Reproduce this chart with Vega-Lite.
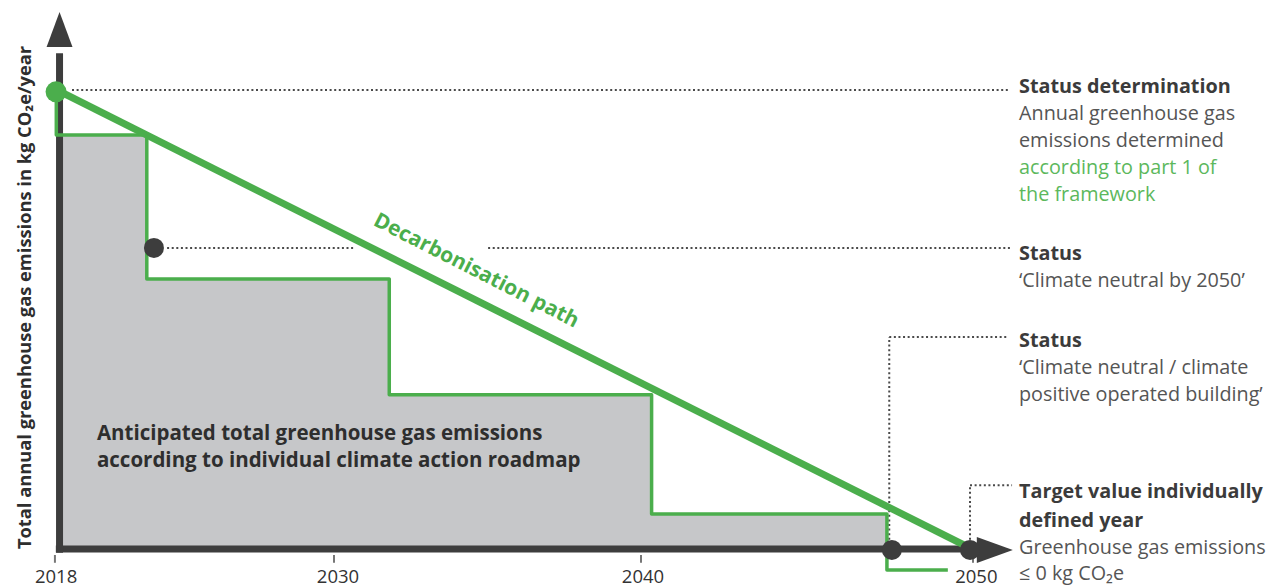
{
  "$schema": "https://vega.github.io/schema/vega-lite/v6.json",
  "width": 1277,
  "height": 588,
  "autosize": {"type": "none"},
  "padding": 0,
  "background": "white",
  "config": {"view": {"stroke": null}, "font": "Open Sans"},
  "encoding": {
    "x": {"field": "year", "type": "quantitative", "axis": null,
      "scale": {"domain": [2018, 2030, 2040, 2050], "range": [57, 334, 641, 972], "nice": false, "zero": false}},
    "y": {"field": "value", "type": "quantitative", "axis": null,
      "scale": {"domain": [0, 100], "range": [549, 90], "nice": false, "zero": false}}
  },
  "layer": [
    {
      "data": {"values": [
        {"year": 2018, "value": 90.2},
        {"year": 2021.89, "value": 58.8},
        {"year": 2031.8, "value": 33.6},
        {"year": 2040.32, "value": 7.6},
        {"year": 2047.43, "value": 7.6}
      ]},
      "mark": {"type": "area", "interpolate": "step-after", "color": "#c6c7c9"},
      "encoding": {"y2": {"datum": 0}}
    },
    {
      "data": {"values": [
        {"year": 2018.65, "value": 100, "year2": 2051.15, "value2": 100},
        {"year": 2022.77, "value": 65.6, "year2": 2030.68, "value2": 65.6},
        {"year": 2035.02, "value": 65.6, "year2": 2051.15, "value2": 65.6},
        {"year": 2047.5, "value": 0, "year2": 2047.5, "value2": 46.2},
        {"year": 2047.5, "value": 46.2, "year2": 2051.06, "value2": 46.2},
        {"year": 2049.94, "value": 0, "year2": 2049.94, "value2": 13.9},
        {"year": 2049.94, "value": 13.9, "year2": 2051.21, "value2": 13.9}
      ]},
      "mark": {"type": "rule", "strokeDash": [2, 2.6], "strokeWidth": 2, "color": "#4a4a4a"},
      "encoding": {"x2": {"field": "year2"}, "y2": {"field": "value2"}}
    },
    {
      "data": {"values": [
        {"year": 2017.91, "value": -1.3, "year2": 2017.91, "value2": -3.0},
        {"year": 2030, "value": -1.3, "year2": 2030, "value2": -3.0},
        {"year": 2040, "value": -1.3, "year2": 2040, "value2": -3.0},
        {"year": 2050.03, "value": -1.3, "year2": 2050.03, "value2": -3.0}
      ]},
      "mark": {"type": "rule", "strokeWidth": 2, "color": "#777777"},
      "encoding": {"x2": {"field": "year2"}, "y2": {"field": "value2"}}
    },
    {
      "data": {"values": [
        {"year": 2017.95, "value": 0, "year2": 2050.3, "value2": 0},
        {"year": 2018.11, "value": -0.8, "year2": 2018.11, "value2": 108}
      ]},
      "mark": {"type": "rule", "strokeWidth": 7, "color": "#3d3d3d", "strokeCap": "butt"},
      "encoding": {"x2": {"field": "year2"}, "y2": {"field": "value2"}}
    },
    {
      "data": {"values": [
        {"i": 0, "year": 2017.97, "value": 100},
        {"i": 1, "year": 2017.97, "value": 90.2},
        {"i": 2, "year": 2021.89, "value": 90.2},
        {"i": 3, "year": 2021.89, "value": 58.8},
        {"i": 4, "year": 2031.8, "value": 58.8},
        {"i": 5, "year": 2031.8, "value": 33.6},
        {"i": 6, "year": 2040.32, "value": 33.6},
        {"i": 7, "year": 2040.32, "value": 7.6},
        {"i": 8, "year": 2047.43, "value": 7.6},
        {"i": 9, "year": 2047.43, "value": -4.6},
        {"i": 10, "year": 2049.27, "value": -4.6}
      ]},
      "mark": {"type": "line", "color": "#4bae4c", "strokeWidth": 3.5, "strokeJoin": "round"},
      "encoding": {"order": {"field": "i", "type": "quantitative"}}
    },
    {
      "data": {"values": [
        {"year": 2018, "value": 100},
        {"year": 2050, "value": 0}
      ]},
      "mark": {"type": "line", "color": "#4bae4c", "strokeWidth": 7, "strokeCap": "butt"}
    },
    {
      "data": {"values": [
        {"year": 2050.69, "value": -0.2}
      ]},
      "mark": {"type": "point", "shape": "M1,0L-1,0.72L-1,-0.72Z", "filled": true, "size": 1296, "color": "#3d3d3d", "opacity": 1, "strokeWidth": 0}
    },
    {
      "data": {"values": [
        {"year": 2018.11, "value": 113.2}
      ]},
      "mark": {"type": "point", "shape": "M0,-1L0.74,1L-0.74,1Z", "filled": true, "size": 1225, "color": "#3d3d3d", "opacity": 1, "strokeWidth": 0}
    },
    {
      "data": {"values": [
        {"year": 2017.96, "value": 99.6}
      ]},
      "mark": {"type": "circle", "size": 441, "color": "#4bae4c", "opacity": 1}
    },
    {
      "data": {"values": [
        {"year": 2022.2, "value": 65.6},
        {"year": 2047.58, "value": -0.2},
        {"year": 2049.94, "value": -0.2}
      ]},
      "mark": {"type": "circle", "size": 400, "color": "#3d3d3d", "opacity": 1}
    },
    {
      "data": {"values": [
        {"year": 2017.96, "value": -7.41, "label": "2018"},
        {"year": 2030.13, "value": -7.41, "label": "2030"},
        {"year": 2040.06, "value": -7.41, "label": "2040"},
        {"year": 2050.13, "value": -7.41, "label": "2050"}
      ]},
      "mark": {"type": "text", "fontSize": 18.5, "color": "#333333", "align": "center", "baseline": "alphabetic"},
      "encoding": {"text": {"field": "label"}}
    },
    {
      "data": {"values": [
        {"year": 2034.63, "value": 60.57, "label": "Decarbonisation path"}
      ]},
      "mark": {"type": "text", "fontSize": 21, "fontWeight": "bold", "color": "#4bae4c", "align": "center", "baseline": "middle", "angle": 27},
      "encoding": {"text": {"field": "label"}}
    },
    {
      "data": {"values": [
        {"year": 2016.66, "value": 54.8, "label": "Total annual greenhouse gas emissions in kg CO₂e/year"}
      ]},
      "mark": {"type": "text", "fontSize": 18.3, "fontWeight": "bold", "color": "#2e2e2e", "align": "center", "baseline": "middle", "angle": 270},
      "encoding": {"text": {"field": "label"}}
    },
    {
      "data": {"values": [
        {"year": 2019.73, "value": 23.75, "label": "Anticipated total greenhouse gas emissions"},
        {"year": 2019.73, "value": 17.86, "label": "according to individual climate action roadmap"}
      ]},
      "mark": {"type": "text", "fontSize": 20.5, "fontWeight": "bold", "color": "#2e2e2e", "align": "left", "baseline": "alphabetic"},
      "encoding": {"text": {"field": "label"}}
    },
    {
      "data": {"values": [
        {"year": 2051.42, "value": 99.35, "label": "Status determination"},
        {"year": 2051.42, "value": 62.96, "label": "Status"},
        {"year": 2051.42, "value": 44.0, "label": "Status"},
        {"year": 2051.42, "value": 11.1, "label": "Target value individually"},
        {"year": 2051.42, "value": 4.8, "label": "defined year"}
      ]},
      "mark": {"type": "text", "fontSize": 19.8, "fontWeight": "bold", "color": "#3b3b3b", "align": "left", "baseline": "alphabetic"},
      "encoding": {"text": {"field": "label"}}
    },
    {
      "data": {"values": [
        {"year": 2051.42, "value": 93.46, "label": "Annual greenhouse gas"},
        {"year": 2051.42, "value": 87.58, "label": "emissions determined"},
        {"year": 2051.42, "value": 57.08, "label": "‘Climate neutral by 2050’"},
        {"year": 2051.42, "value": 38.12, "label": "‘Climate neutral / climate"},
        {"year": 2051.42, "value": 32.24, "label": "positive operated building’"},
        {"year": 2051.42, "value": -1.09, "label": "Greenhouse gas emissions"},
        {"year": 2051.42, "value": -6.75, "label": "≤ 0 kg CO₂e"}
      ]},
      "mark": {"type": "text", "fontSize": 19.8, "color": "#555555", "align": "left", "baseline": "alphabetic"},
      "encoding": {"text": {"field": "label"}}
    },
    {
      "data": {"values": [
        {"year": 2051.42, "value": 81.7, "label": "according to part 1 of"},
        {"year": 2051.42, "value": 75.82, "label": "the framework"}
      ]},
      "mark": {"type": "text", "fontSize": 19.8, "color": "#5cb85c", "align": "left", "baseline": "alphabetic"},
      "encoding": {"text": {"field": "label"}}
    }
  ]
}
